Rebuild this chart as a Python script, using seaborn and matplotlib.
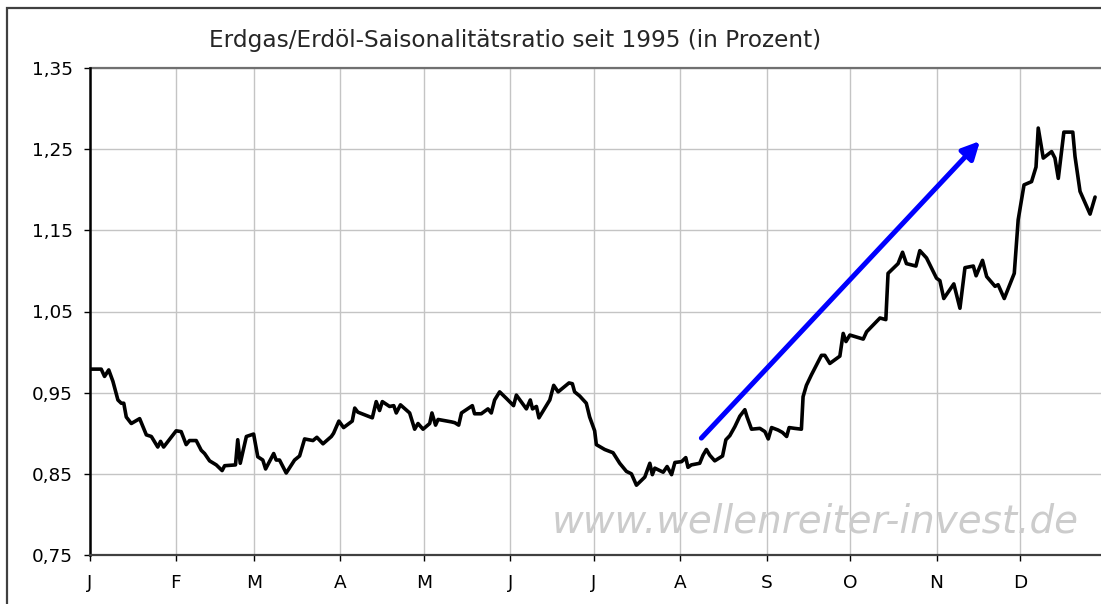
import matplotlib
matplotlib.use("Agg")
import matplotlib.pyplot as plt
import seaborn as sns
from matplotlib.patches import Rectangle

# day of year / seasonal ratio
days = [0, 4.2, 5.4, 6.9, 8.4, 10.2, 11.4, 12.3, 13.2, 15.0, 18.0, 20.4, 22.2, 24.5, 25.5, 26.6,
        31.1, 32.9, 34.7, 35.9, 38.3, 40.1, 41.3, 43.1, 45.5, 47.6, 48.5, 52.4, 53.2, 54.1, 56.3,
        58.9, 60.4, 62.2, 63.2, 66.1, 67.0, 68.2, 70.6, 73.6, 75.4, 77.2, 80.2, 81.6, 83.8, 86.8,
        87.6, 89.5, 91.2, 94.3, 95.2, 96.3, 101.5, 102.9, 104.1, 105.1, 107.7, 109.2, 110.1, 111.6,
        114.9, 116.7, 117.9, 119.7, 122.1, 122.9, 124.2, 125.1, 129.9, 131.1, 132.5, 133.5, 137.4,
        138.2, 140.6, 143.0, 144.2, 145.4, 147.2, 149.6, 152.2, 153.2, 156.8, 158.2, 159.0, 160.4,
        161.3, 165.2, 166.6, 168.2, 172.1, 173.3, 174.1, 175.9, 178.3, 179.5, 181.3, 181.9, 184.9,
        187.9, 190.3, 192.7, 194.5, 196.3, 199.3, 201.1, 202.0, 202.9, 205.9, 207.3, 208.9, 210.1,
        212.5, 214.0, 214.8, 216.0, 219.0, 220.2, 221.4, 222.6, 224.4, 227.2, 228.4, 229.8, 231.6,
        233.4, 235.2, 236.0, 237.6, 240.6, 242.4, 243.6, 244.8, 247.1, 248.7, 250.2, 251.1, 253.1,
        255.5, 256.1, 257.3, 259.1, 262.7, 263.9, 265.7, 269.3, 270.5, 271.5, 272.9, 277.7, 278.9,
        283.7, 285.8, 286.6, 290.2, 291.8, 293.2, 296.6, 298.0, 300.4, 304.0, 305.2, 306.6, 310.2,
        312.4, 314.2, 317.2, 318.2, 320.5, 322.0, 325.0, 326.1, 328.3, 331.9, 333.3, 335.4, 338.1,
        339.7, 340.5, 342.3, 345.3, 346.5, 347.7, 349.7, 352.9, 353.7, 355.5, 359.1, 360.9]
ratio = [0.979, 0.979, 0.970, 0.978, 0.964, 0.941, 0.937, 0.937, 0.920, 0.912, 0.918, 0.898, 0.896,
         0.883, 0.890, 0.883, 0.903, 0.902, 0.886, 0.891, 0.891, 0.879, 0.875, 0.866, 0.861, 0.854,
         0.860, 0.861, 0.892, 0.863, 0.896, 0.899, 0.871, 0.867, 0.856, 0.875, 0.867, 0.867, 0.851,
         0.867, 0.872, 0.893, 0.891, 0.895, 0.887, 0.896, 0.900, 0.915, 0.907, 0.915, 0.931, 0.926,
         0.919, 0.939, 0.928, 0.939, 0.933, 0.934, 0.925, 0.935, 0.925, 0.905, 0.912, 0.905, 0.912,
         0.925, 0.910, 0.917, 0.914, 0.913, 0.910, 0.925, 0.934, 0.924, 0.924, 0.930, 0.925, 0.941,
         0.951, 0.943, 0.934, 0.947, 0.930, 0.941, 0.930, 0.933, 0.919, 0.941, 0.959, 0.951, 0.962,
         0.961, 0.951, 0.946, 0.937, 0.920, 0.903, 0.886, 0.880, 0.876, 0.863, 0.853, 0.850, 0.836,
         0.846, 0.863, 0.849, 0.857, 0.852, 0.859, 0.849, 0.864, 0.865, 0.870, 0.858, 0.861, 0.863,
         0.873, 0.880, 0.873, 0.866, 0.872, 0.892, 0.897, 0.908, 0.921, 0.929, 0.920, 0.905, 0.906,
         0.902, 0.893, 0.907, 0.904, 0.901, 0.896, 0.907, 0.906, 0.905, 0.945, 0.959, 0.972, 0.996,
         0.996, 0.986, 0.995, 1.023, 1.013, 1.021, 1.016, 1.025, 1.042, 1.040, 1.097, 1.109, 1.123,
         1.109, 1.106, 1.125, 1.116, 1.091, 1.088, 1.066, 1.084, 1.054, 1.104, 1.106, 1.094, 1.113,
         1.093, 1.081, 1.083, 1.066, 1.097, 1.163, 1.206, 1.210, 1.228, 1.276, 1.239, 1.247, 1.239,
         1.214, 1.271, 1.271, 1.241, 1.198, 1.170, 1.191]

month_starts = [0, 31, 59, 90, 120, 151, 181, 212, 243, 273, 304, 334]
month_labels = ["J", "F", "M", "A", "M", "J", "J", "A", "S", "O", "N", "D"]
yticks = [0.75, 0.85, 0.95, 1.05, 1.15, 1.25, 1.35]
ytick_labels = ["0,75", "0,85", "0,95", "1,05", "1,15", "1,25", "1,35"]

# trend arrow (start / end in data units)
arrow_start = (219.6, 0.894)
arrow_end = (319.6, 1.260)

title = "Erdgas/Erdöl-Saisonalitätsratio seit 1995 (in Prozent)"
watermark = "www.wellenreiter-invest.de"

sns.set_style("white")
plt.rcParams['font.family'] = ['DejaVu Sans']

fig = plt.figure(figsize=(11.01, 6.04), dpi=100)
ax = fig.add_axes([89.5 / 1101, 49 / 604, (1106.5 - 89.5) / 1101, 487 / 604])

sns.lineplot(x=days, y=ratio, color="black", linewidth=2.6, estimator=None, sort=False, ax=ax)

ax.set_xlim(0, 365)
ax.set_ylim(0.75, 1.35)
ax.set_xticks(month_starts)
ax.set_xticklabels(month_labels)
ax.set_yticks(yticks)
ax.set_yticklabels(ytick_labels)
ax.grid(True, color="#c4c4c4", linewidth=1.0)
ax.set_axisbelow(True)
ax.tick_params(axis="both", labelsize=13.3, colors="black", length=4, width=1, direction="out")
ax.tick_params(axis="x", pad=10)
ax.tick_params(axis="y", pad=8)
ax.tick_params(left=True, bottom=True)

for s in ["top", "right"]:
    ax.spines[s].set_visible(False)
ax.spines["left"].set_color("black")
ax.spines["left"].set_linewidth(1.8)
ax.spines["bottom"].set_color("#404040")
ax.spines["bottom"].set_linewidth(1.6)
ax.axhline(1.35, color="#707070", linewidth=1.6, clip_on=False)

ax.annotate("", xy=arrow_end, xytext=arrow_start,
            arrowprops=dict(arrowstyle="-|>", color="#0000ff", lw=3.6,
                            mutation_scale=26, shrinkA=0, shrinkB=0))

ax.text(0.454, 0.068, watermark, transform=ax.transAxes, fontsize=28, style="italic",
        color="#cccccc", ha="left", va="center")

fig.text(515 / 1101, 1 - 40 / 604, title, fontsize=16.7, ha="center", va="center")

# outer chart frame
fig.patches.append(Rectangle((7 / 1101, -0.1), 1.2, 1.1 - 8 / 604, transform=fig.transFigure,
                             fill=False, edgecolor="#404040", linewidth=1.6))

plt.savefig("out.png", dpi=100)
